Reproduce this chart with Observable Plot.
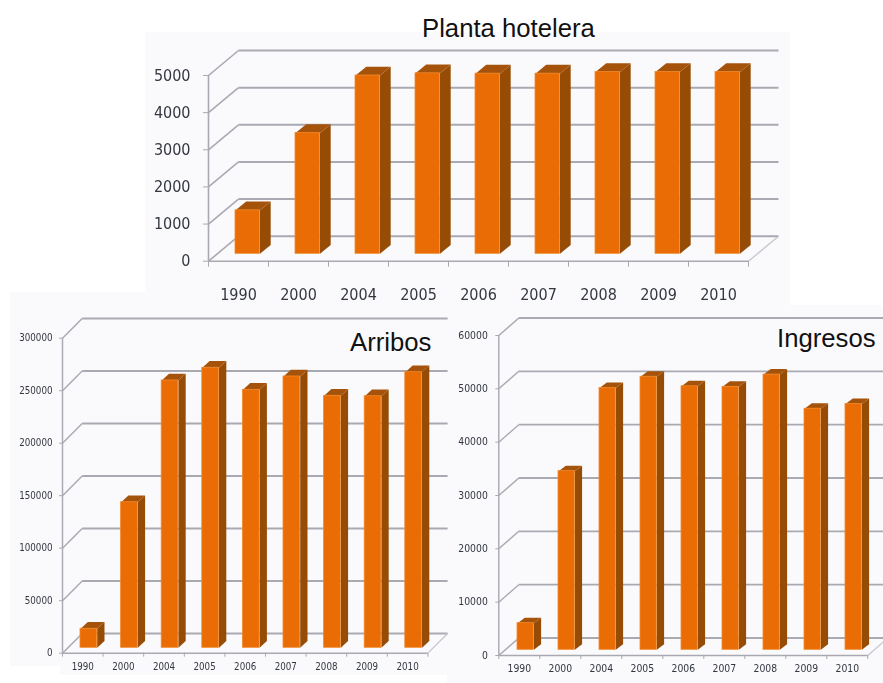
<!DOCTYPE html>
<html>
<head>
<meta charset="utf-8">
<script src="https://cdn.jsdelivr.net/npm/d3@7"></script>
<script src="https://cdn.jsdelivr.net/npm/@observablehq/plot@0.6"></script>
<style>
html,body{margin:0;padding:0;background:#fff;width:883px;height:683px;overflow:hidden}
#page{position:relative;width:883px;height:683px}
.panel{position:absolute;background:#fafafd}
.holder{position:absolute;filter:blur(0.45px)}
.holder svg{background:transparent;display:block;overflow:visible}
.title{position:absolute;font-family:"Liberation Sans",Arial,sans-serif;color:#111;font-size:25.7px;line-height:30px;white-space:nowrap}
</style>
</head>
<body>
<div id="page"></div>
<script>
const years = ["1990","2000","2004","2005","2006","2007","2008","2009","2010"];
const plantaValues = [1170,3250,4800,4860,4850,4850,4895,4895,4895];
const arribosValues = [18100,138700,254600,266700,245700,258400,240000,239600,262500];
const ingresosValues = [5000,33500,49100,51200,49400,49300,51600,45200,46100];
const plantaTicks = [0,1000,2000,3000,4000,5000];
const arribosTicks = [0,50000,100000,150000,200000,250000,300000];
const ingresosTicks = [0,10000,20000,30000,40000,50000,60000];

const panels = [[10,292,135,20],[10,305,437,361],[60,305,387,370],[145,32,645,273],[447,305,436,378]];
const page = document.getElementById("page");
for (const [l,t,w,h] of panels) {
  const p = document.createElement("div");
  p.className = "panel";
  p.style.cssText = `left:${l}px;top:${t}px;width:${w}px;height:${h}px`;
  page.appendChild(p);
}

function chart(c) {
  const n = years.length;
  const ux = n / (c.right - c.left);
  const uy = c.max / (c.zero - c.top);
  const wallX = c.wallDx * ux, wallY = c.wallDy * uy;
  const grid = "#a9a9b2";
  const bars = c.values.map((v, i) => {
    const x1 = i + c.barOff * ux, x2 = x1 + c.barW * ux;
    const y1 = c.barBase * uy, y2 = y1 + v;
    return {i, x1, x2, y1, y2};
  });
  const sx = c.sideDx * ux, sy = c.sideDy * uy;
  const side = bars.flatMap(b => [
    {i:b.i, x:b.x2, y:b.y1}, {i:b.i, x:b.x2+sx, y:b.y1+sy},
    {i:b.i, x:b.x2+sx, y:b.y2+sy}, {i:b.i, x:b.x2, y:b.y2}
  ]);
  const top = bars.flatMap(b => [
    {i:b.i, x:b.x1, y:b.y2}, {i:b.i, x:b.x1+sx, y:b.y2+sy},
    {i:b.i, x:b.x2+sx, y:b.y2+sy}, {i:b.i, x:b.x2, y:b.y2}
  ]);
  const centers = years.map((_, i) => i + 0.5);
  const bounds = d3.range(n + 1);
  const plot = Plot.plot({
    width: c.W, height: c.H,
    marginLeft: c.left - c.L, marginRight: c.L + c.W - c.right,
    marginTop: c.top - c.T, marginBottom: c.T + c.H - c.zero,
    style: {background:"transparent", fontFamily:'"DejaVu Sans Condensed","DejaVu Sans",sans-serif', fontSize:c.font+"px"},
    x: {domain:[0,n], axis:null},
    y: {domain:[0,c.max], axis:null},
    marks: [
      Plot.link(c.ticks, {x1:wallX, x2:n+wallX, y1:d=>d+wallY, y2:d=>d+wallY, stroke:grid, strokeWidth:c.gridW}),
      Plot.link(c.ticks, {x1:0, x2:wallX, y1:d=>d, y2:d=>d+wallY, stroke:grid, strokeWidth:c.gridW*0.8}),
      Plot.link([0], {x1:n, x2:n+wallX, y1:0, y2:wallY, stroke:"#c4c4cc", strokeWidth:1.2}),
      Plot.ruleX([0], {y1:0, y2:c.max, stroke:grid, strokeWidth:c.gridW*0.8}),
      Plot.ruleY([0], {x1:0, x2:n, stroke:grid, strokeWidth:c.gridW*0.8}),
      Plot.axisX({ticks:bounds, tickSize:c.tickX, stroke:grid, fill:"none", label:null, tickFormat:()=>""}),
      Plot.axisY({ticks:c.ticks, tickSize:c.tickY, stroke:grid, fill:"none", label:null, tickFormat:()=>""}),
      Plot.axisX({ticks:centers, tickSize:0, tickPadding:c.padX, fill:"#33373f", stroke:"none", label:null, fontSize:c.font, tickFormat:d=>years[d-0.5]}),
      Plot.axisY({ticks:c.ticks, tickSize:0, tickPadding:c.padY, fill:"#33373f", stroke:"none", label:null, fontSize:c.font, tickFormat:d=>String(d)}),
      Plot.line(side, {x:"x", y:"y", z:"i", fill:"#964c05", stroke:"none", curve:"linear"}),
      Plot.line(top, {x:"x", y:"y", z:"i", fill:"#a5530a", stroke:"none", curve:"linear"}),
      Plot.rectY(bars, {x1:"x1", x2:"x2", y1:"y1", y2:"y2", fill:"#e96c05", stroke:"#f08a2c", strokeWidth:0.8, inset:0})
    ]
  });
  const h = document.createElement("div");
  h.className = "holder";
  h.style.cssText = `left:${c.L}px;top:${c.T}px;width:${c.W}px;height:${c.H}px`;
  h.appendChild(plot);
  page.appendChild(h);
}

chart({values:plantaValues, ticks:plantaTicks, max:5000,
  L:145, T:32, W:645, H:273, left:208, right:748, top:75, zero:260.7,
  wallDx:30, wallDy:25, barOff:27, barW:24.5, barBase:7.4, sideDx:10.7, sideDy:8.8,
  font:16, gridW:2, tickX:6, tickY:5, padX:27, padY:18});
chart({values:arribosValues, ticks:arribosTicks, max:300000,
  L:10, T:306, W:437, H:370, left:62, right:427.4, top:337.7, zero:652.7,
  wallDx:19.7, wallDy:19.7, barOff:18, barW:16.7, barBase:5.4, sideDx:7.3, sideDy:6.7,
  font:9.7, gridW:1.8, tickX:4, tickY:3, padX:10, padY:10});
chart({values:ingresosValues, ticks:ingresosTicks, max:60000,
  L:447, T:306, W:436, H:377, left:498.3, right:867.3, top:335, zero:655,
  wallDx:20, wallDy:17.5, barOff:18.7, barW:16.3, barBase:5.7, sideDx:7.3, sideDy:5.5,
  font:10.3, gridW:1.8, tickX:4, tickY:3, padX:9, padY:11});

for (const [text,l,t] of [["Planta hotelera",422,13],["Arribos",350,327],["Ingresos",777,323]]) {
  const d = document.createElement("div");
  d.className = "title";
  d.textContent = text;
  d.style.left = l + "px";
  d.style.top = t + "px";
  page.appendChild(d);
}
</script>
</body>
</html>
